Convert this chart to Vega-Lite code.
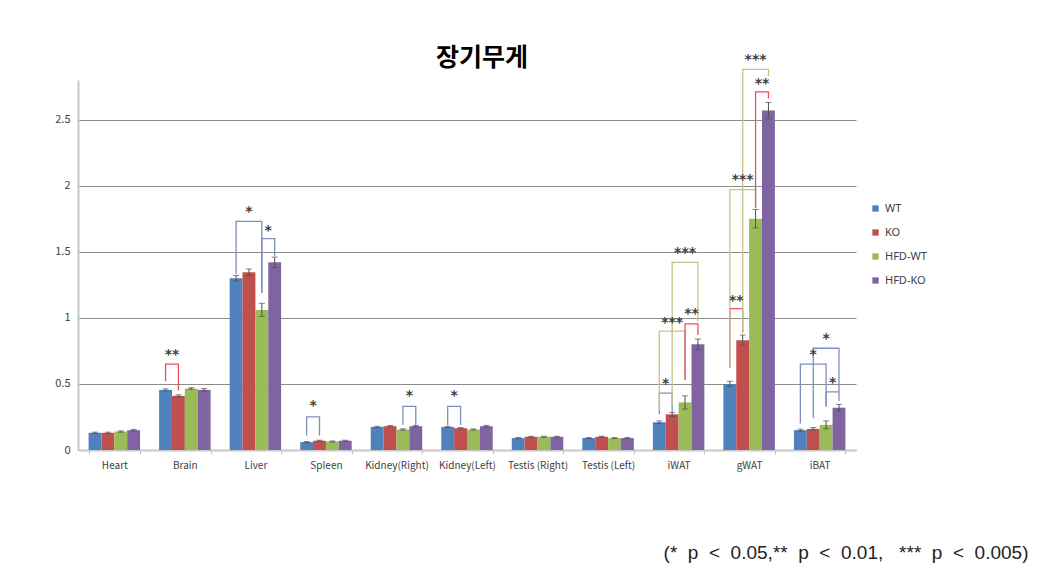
{
  "$schema": "https://vega.github.io/schema/vega-lite/v6.json",
  "width": 778,
  "height": 370,
  "autosize": {"type": "none"},
  "padding": {"left": 78, "top": 80, "right": 182, "bottom": 113},
  "background": "white",
  "config": {"font": "Noto Sans CJK KR", "view": {"stroke": null}},
  "title": {"text": "장기무게", "fontSize": 25, "fontWeight": "bold", "color": "#000000", "anchor": "middle", "frame": "group", "dx": 15, "dy": 30, "offset": 12},
  "datasets": {
    "bars": [
      {"organ": "Heart", "group": "WT", "value": 0.13, "err": 0.005},
      {"organ": "Heart", "group": "KO", "value": 0.13, "err": 0.005},
      {"organ": "Heart", "group": "HFD-WT", "value": 0.14, "err": 0.005},
      {"organ": "Heart", "group": "HFD-KO", "value": 0.15, "err": 0.006},
      {"organ": "Brain", "group": "WT", "value": 0.455, "err": 0.008},
      {"organ": "Brain", "group": "KO", "value": 0.41, "err": 0.008},
      {"organ": "Brain", "group": "HFD-WT", "value": 0.465, "err": 0.006},
      {"organ": "Brain", "group": "HFD-KO", "value": 0.455, "err": 0.01},
      {"organ": "Liver", "group": "WT", "value": 1.3, "err": 0.02},
      {"organ": "Liver", "group": "KO", "value": 1.345, "err": 0.025},
      {"organ": "Liver", "group": "HFD-WT", "value": 1.06, "err": 0.05},
      {"organ": "Liver", "group": "HFD-KO", "value": 1.42, "err": 0.04},
      {"organ": "Spleen", "group": "WT", "value": 0.06, "err": 0.004},
      {"organ": "Spleen", "group": "KO", "value": 0.07, "err": 0.004},
      {"organ": "Spleen", "group": "HFD-WT", "value": 0.065, "err": 0.004},
      {"organ": "Spleen", "group": "HFD-KO", "value": 0.07, "err": 0.004},
      {"organ": "Kidney(Right)", "group": "WT", "value": 0.175, "err": 0.005},
      {"organ": "Kidney(Right)", "group": "KO", "value": 0.18, "err": 0.005},
      {"organ": "Kidney(Right)", "group": "HFD-WT", "value": 0.155, "err": 0.005},
      {"organ": "Kidney(Right)", "group": "HFD-KO", "value": 0.18, "err": 0.006},
      {"organ": "Kidney(Left)", "group": "WT", "value": 0.175, "err": 0.005},
      {"organ": "Kidney(Left)", "group": "KO", "value": 0.165, "err": 0.005},
      {"organ": "Kidney(Left)", "group": "HFD-WT", "value": 0.155, "err": 0.005},
      {"organ": "Kidney(Left)", "group": "HFD-KO", "value": 0.18, "err": 0.006},
      {"organ": "Testis (Right)", "group": "WT", "value": 0.09, "err": 0.004},
      {"organ": "Testis (Right)", "group": "KO", "value": 0.1, "err": 0.004},
      {"organ": "Testis (Right)", "group": "HFD-WT", "value": 0.1, "err": 0.004},
      {"organ": "Testis (Right)", "group": "HFD-KO", "value": 0.1, "err": 0.004},
      {"organ": "Testis (Left)", "group": "WT", "value": 0.09, "err": 0.004},
      {"organ": "Testis (Left)", "group": "KO", "value": 0.1, "err": 0.004},
      {"organ": "Testis (Left)", "group": "HFD-WT", "value": 0.09, "err": 0.004},
      {"organ": "Testis (Left)", "group": "HFD-KO", "value": 0.09, "err": 0.004},
      {"organ": "iWAT", "group": "WT", "value": 0.21, "err": 0.01},
      {"organ": "iWAT", "group": "KO", "value": 0.27, "err": 0.015},
      {"organ": "iWAT", "group": "HFD-WT", "value": 0.36, "err": 0.05},
      {"organ": "iWAT", "group": "HFD-KO", "value": 0.8, "err": 0.04},
      {"organ": "gWAT", "group": "WT", "value": 0.5, "err": 0.02},
      {"organ": "gWAT", "group": "KO", "value": 0.83, "err": 0.04},
      {"organ": "gWAT", "group": "HFD-WT", "value": 1.75, "err": 0.07},
      {"organ": "gWAT", "group": "HFD-KO", "value": 2.57, "err": 0.06},
      {"organ": "iBAT", "group": "WT", "value": 0.15, "err": 0.008},
      {"organ": "iBAT", "group": "KO", "value": 0.16, "err": 0.01},
      {"organ": "iBAT", "group": "HFD-WT", "value": 0.19, "err": 0.03},
      {"organ": "iBAT", "group": "HFD-KO", "value": 0.32, "err": 0.025}
    ],
    "brackets": [
      {"id": 1, "organ": "Brain", "pos": "WT", "y": 0.52, "o": 1, "sig": "**"},
      {"id": 1, "organ": "Brain", "pos": "WT", "y": 0.65, "o": 2, "sig": "**"},
      {"id": 1, "organ": "Brain", "pos": "KO", "y": 0.65, "o": 3, "sig": "**"},
      {"id": 1, "organ": "Brain", "pos": "KO", "y": 0.45, "o": 4, "sig": "**"},
      {"id": 2, "organ": "Liver", "pos": "WT", "y": 1.33, "o": 1, "sig": "*"},
      {"id": 2, "organ": "Liver", "pos": "WT", "y": 1.73, "o": 2, "sig": "*"},
      {"id": 2, "organ": "Liver", "pos": "HFD-WT", "y": 1.73, "o": 3, "sig": "*"},
      {"id": 2, "organ": "Liver", "pos": "HFD-WT", "y": 1.19, "o": 4, "sig": "*"},
      {"id": 3, "organ": "Liver", "pos": "HFD-WT", "y": 1.19, "o": 1, "sig": "*"},
      {"id": 3, "organ": "Liver", "pos": "HFD-WT", "y": 1.6, "o": 2, "sig": "*"},
      {"id": 3, "organ": "Liver", "pos": "HFD-KO", "y": 1.6, "o": 3, "sig": "*"},
      {"id": 3, "organ": "Liver", "pos": "HFD-KO", "y": 1.47, "o": 4, "sig": "*"},
      {"id": 4, "organ": "Spleen", "pos": "WT", "y": 0.11, "o": 1, "sig": "*"},
      {"id": 4, "organ": "Spleen", "pos": "WT", "y": 0.25, "o": 2, "sig": "*"},
      {"id": 4, "organ": "Spleen", "pos": "KO", "y": 0.25, "o": 3, "sig": "*"},
      {"id": 4, "organ": "Spleen", "pos": "KO", "y": 0.11, "o": 4, "sig": "*"},
      {"id": 5, "organ": "Kidney(Right)", "pos": "HFD-WT", "y": 0.19, "o": 1, "sig": "*"},
      {"id": 5, "organ": "Kidney(Right)", "pos": "HFD-WT", "y": 0.33, "o": 2, "sig": "*"},
      {"id": 5, "organ": "Kidney(Right)", "pos": "HFD-KO", "y": 0.33, "o": 3, "sig": "*"},
      {"id": 5, "organ": "Kidney(Right)", "pos": "HFD-KO", "y": 0.19, "o": 4, "sig": "*"},
      {"id": 6, "organ": "Kidney(Left)", "pos": "WT", "y": 0.19, "o": 1, "sig": "*"},
      {"id": 6, "organ": "Kidney(Left)", "pos": "WT", "y": 0.33, "o": 2, "sig": "*"},
      {"id": 6, "organ": "Kidney(Left)", "pos": "KO", "y": 0.33, "o": 3, "sig": "*"},
      {"id": 6, "organ": "Kidney(Left)", "pos": "KO", "y": 0.19, "o": 4, "sig": "*"},
      {"id": 7, "organ": "iWAT", "pos": "WT", "y": 0.27, "o": 1, "sig": "*"},
      {"id": 7, "organ": "iWAT", "pos": "WT", "y": 0.43, "o": 2, "sig": "*"},
      {"id": 7, "organ": "iWAT", "pos": "KO", "y": 0.43, "o": 3, "sig": "*"},
      {"id": 7, "organ": "iWAT", "pos": "KO", "y": 0.29, "o": 4, "sig": "*"},
      {"id": 8, "organ": "iWAT", "pos": "WT", "y": 0.3, "o": 1, "sig": "***"},
      {"id": 8, "organ": "iWAT", "pos": "WT", "y": 0.9, "o": 2, "sig": "***"},
      {"id": 8, "organ": "iWAT", "pos": "HFD-WT", "y": 0.9, "o": 3, "sig": "***"},
      {"id": 8, "organ": "iWAT", "pos": "HFD-WT", "y": 0.53, "o": 4, "sig": "***"},
      {"id": 9, "organ": "iWAT", "pos": "HFD-WT", "y": 0.53, "o": 1, "sig": "**"},
      {"id": 9, "organ": "iWAT", "pos": "HFD-WT", "y": 0.955, "o": 2, "sig": "**"},
      {"id": 9, "organ": "iWAT", "pos": "HFD-KO", "y": 0.955, "o": 3, "sig": "**"},
      {"id": 9, "organ": "iWAT", "pos": "HFD-KO", "y": 0.87, "o": 4, "sig": "**"},
      {"id": 10, "organ": "iWAT", "pos": "KO", "y": 0.33, "o": 1, "sig": "***"},
      {"id": 10, "organ": "iWAT", "pos": "KO", "y": 1.42, "o": 2, "sig": "***"},
      {"id": 10, "organ": "iWAT", "pos": "HFD-KO", "y": 1.42, "o": 3, "sig": "***"},
      {"id": 10, "organ": "iWAT", "pos": "HFD-KO", "y": 0.97, "o": 4, "sig": "***"},
      {"id": 11, "organ": "gWAT", "pos": "WT", "y": 0.62, "o": 1, "sig": "**"},
      {"id": 11, "organ": "gWAT", "pos": "WT", "y": 1.07, "o": 2, "sig": "**"},
      {"id": 11, "organ": "gWAT", "pos": "KO", "y": 1.07, "o": 3, "sig": "**"},
      {"id": 11, "organ": "gWAT", "pos": "KO", "y": 0.89, "o": 4, "sig": "**"},
      {"id": 12, "organ": "gWAT", "pos": "WT", "y": 0.62, "o": 1, "sig": "***"},
      {"id": 12, "organ": "gWAT", "pos": "WT", "y": 1.97, "o": 2, "sig": "***"},
      {"id": 12, "organ": "gWAT", "pos": "HFD-WT", "y": 1.97, "o": 3, "sig": "***"},
      {"id": 12, "organ": "gWAT", "pos": "HFD-WT", "y": 1.83, "o": 4, "sig": "***"},
      {"id": 13, "organ": "gWAT", "pos": "HFD-WT", "y": 1.83, "o": 1, "sig": "**"},
      {"id": 13, "organ": "gWAT", "pos": "HFD-WT", "y": 2.71, "o": 2, "sig": "**"},
      {"id": 13, "organ": "gWAT", "pos": "HFD-KO", "y": 2.71, "o": 3, "sig": "**"},
      {"id": 13, "organ": "gWAT", "pos": "HFD-KO", "y": 2.66, "o": 4, "sig": "**"},
      {"id": 14, "organ": "gWAT", "pos": "KO", "y": 0.9, "o": 1, "sig": "***"},
      {"id": 14, "organ": "gWAT", "pos": "KO", "y": 2.88, "o": 2, "sig": "***"},
      {"id": 14, "organ": "gWAT", "pos": "HFD-KO", "y": 2.88, "o": 3, "sig": "***"},
      {"id": 14, "organ": "gWAT", "pos": "HFD-KO", "y": 2.83, "o": 4, "sig": "***"},
      {"id": 15, "organ": "iBAT", "pos": "WT", "y": 0.2, "o": 1, "sig": "*"},
      {"id": 15, "organ": "iBAT", "pos": "WT", "y": 0.65, "o": 2, "sig": "*"},
      {"id": 15, "organ": "iBAT", "pos": "HFD-WT", "y": 0.65, "o": 3, "sig": "*"},
      {"id": 15, "organ": "iBAT", "pos": "HFD-WT", "y": 0.33, "o": 4, "sig": "*"},
      {"id": 16, "organ": "iBAT", "pos": "KO", "y": 0.24, "o": 1, "sig": "*"},
      {"id": 16, "organ": "iBAT", "pos": "KO", "y": 0.77, "o": 2, "sig": "*"},
      {"id": 16, "organ": "iBAT", "pos": "HFD-KO", "y": 0.77, "o": 3, "sig": "*"},
      {"id": 16, "organ": "iBAT", "pos": "HFD-KO", "y": 0.44, "o": 4, "sig": "*"},
      {"id": 17, "organ": "iBAT", "pos": "HFD-WT", "y": 0.33, "o": 1, "sig": "*"},
      {"id": 17, "organ": "iBAT", "pos": "HFD-WT", "y": 0.44, "o": 2, "sig": "*"},
      {"id": 17, "organ": "iBAT", "pos": "HFD-KO", "y": 0.44, "o": 3, "sig": "*"},
      {"id": 17, "organ": "iBAT", "pos": "HFD-KO", "y": 0.37, "o": 4, "sig": "*"}
    ],
    "stars": [
      {"organ": "Brain", "pos": "a", "y": 0.72, "sig": "**"},
      {"organ": "Liver", "pos": "KO", "y": 1.8, "sig": "*"},
      {"organ": "Liver", "pos": "c", "y": 1.66, "sig": "*"},
      {"organ": "Spleen", "pos": "a", "y": 0.33, "sig": "*"},
      {"organ": "Kidney(Right)", "pos": "c", "y": 0.41, "sig": "*"},
      {"organ": "Kidney(Left)", "pos": "a", "y": 0.41, "sig": "*"},
      {"organ": "iWAT", "pos": "a", "y": 0.5, "sig": "*"},
      {"organ": "iWAT", "pos": "KO", "y": 0.96, "sig": "***"},
      {"organ": "iWAT", "pos": "c", "y": 1.03, "sig": "**"},
      {"organ": "iWAT", "pos": "HFD-WT", "y": 1.49, "sig": "***"},
      {"organ": "gWAT", "pos": "a", "y": 1.13, "sig": "**"},
      {"organ": "gWAT", "pos": "KO", "y": 2.04, "sig": "***"},
      {"organ": "gWAT", "pos": "c", "y": 2.77, "sig": "**"},
      {"organ": "gWAT", "pos": "HFD-WT", "y": 2.95, "sig": "***"},
      {"organ": "iBAT", "pos": "KO", "y": 0.72, "sig": "*"},
      {"organ": "iBAT", "pos": "HFD-WT", "y": 0.84, "sig": "*"},
      {"organ": "iBAT", "pos": "c", "y": 0.51, "sig": "*"}
    ]
  },
  "resolve": {"scale": {"xOffset": "independent", "color": "independent"}},
  "layer": [
    {
      "data": {"name": "bars"},
      "layer": [
        {
          "mark": {"type": "bar"},
          "encoding": {
            "x": {"field": "organ", "type": "nominal",
              "scale": {"domain": ["Heart", "Brain", "Liver", "Spleen", "Kidney(Right)", "Kidney(Left)", "Testis (Right)", "Testis (Left)", "iWAT", "gWAT", "iBAT"], "paddingInner": 0.27, "paddingOuter": 0.15},
              "axis": {"labelAngle": 0, "labelFontSize": 10, "labelColor": "#404040", "labelPadding": 6, "domainColor": "#c8c8c8", "domainWidth": 2, "ticks": true, "tickBand": "extent", "tickSize": 4, "tickColor": "#c0c0c0",
                "title": "(*\u00a0\u00a0p\u00a0\u00a0<\u00a0\u00a00.05,**\u00a0\u00a0p\u00a0\u00a0<\u00a0\u00a00.01,\u00a0\u00a0\u00a0***\u00a0\u00a0p\u00a0\u00a0<\u00a0\u00a00.005)", "titleFont": "Liberation Sans", "titleFontSize": 19, "titleFontWeight": "normal", "titleColor": "#222222", "titleAnchor": "end", "titleAlign": "right", "titleBaseline": "alphabetic", "titleX": 950, "titleY": 108}},
            "xOffset": {"field": "group", "type": "nominal", "scale": {"domain": ["WT", "KO", "HFD-WT", "HFD-KO"], "paddingInner": 0, "paddingOuter": 0}},
            "y": {"field": "value", "type": "quantitative", "title": null,
              "scale": {"domain": [0, 2.8], "nice": false},
              "axis": {"values": [0, 0.5, 1, 1.5, 2, 2.5], "format": "~g", "grid": true, "gridColor": "#8c8c8c", "gridWidth": 1, "ticks": false, "labelColor": "#404040", "labelFontSize": 11, "labelPadding": 8, "domainColor": "#c8c8c8", "domainWidth": 2}},
            "color": {"field": "group", "type": "nominal",
              "scale": {"domain": ["WT", "KO", "HFD-WT", "HFD-KO"], "range": ["#4f81bd", "#c0504d", "#9bbb59", "#8064a2"]},
              "legend": {"title": null, "orient": "none", "legendX": 792, "legendY": 123, "symbolType": "square", "symbolSize": 40, "labelFontSize": 11, "labelColor": "#404040", "rowPadding": 12, "labelFont": "Noto Sans"}}
          }
        },
        {
          "mark": {"type": "errorbar", "ticks": {"color": "#505050", "size": 6}, "rule": {"color": "#505050"}},
          "encoding": {
            "x": {"field": "organ", "type": "nominal"},
            "xOffset": {"field": "group", "type": "nominal"},
            "y": {"field": "value", "type": "quantitative", "title": null},
            "yError": {"field": "err"}
          }
        }
      ]
    },
    {
      "data": {"name": "brackets"},
      "mark": {"type": "line", "strokeWidth": 1.3},
      "encoding": {
        "x": {"field": "organ", "type": "nominal"},
        "xOffset": {"field": "pos", "type": "nominal", "scale": {"type": "point", "domain": ["WT", "a", "KO", "b", "HFD-WT", "c", "HFD-KO"], "padding": 1}},
        "y": {"field": "y", "type": "quantitative", "title": null},
        "detail": {"field": "id", "type": "nominal"},
        "order": {"field": "o", "type": "quantitative"},
        "color": {"field": "sig", "type": "nominal", "scale": {"domain": ["*", "**", "***"], "range": ["#7f8ec0", "#e8505f", "#c3c585"]}, "legend": null}
      }
    },
    {
      "data": {"name": "stars"},
      "mark": {"type": "text", "fontSize": 14, "fontWeight": "bold", "color": "#404040", "baseline": "middle", "font": "DejaVu Sans"},
      "encoding": {
        "x": {"field": "organ", "type": "nominal"},
        "xOffset": {"field": "pos", "type": "nominal", "scale": {"type": "point", "domain": ["WT", "a", "KO", "b", "HFD-WT", "c", "HFD-KO"], "padding": 1}},
        "y": {"field": "y", "type": "quantitative", "title": null},
        "text": {"field": "sig"}
      }
    }
  ]
}
